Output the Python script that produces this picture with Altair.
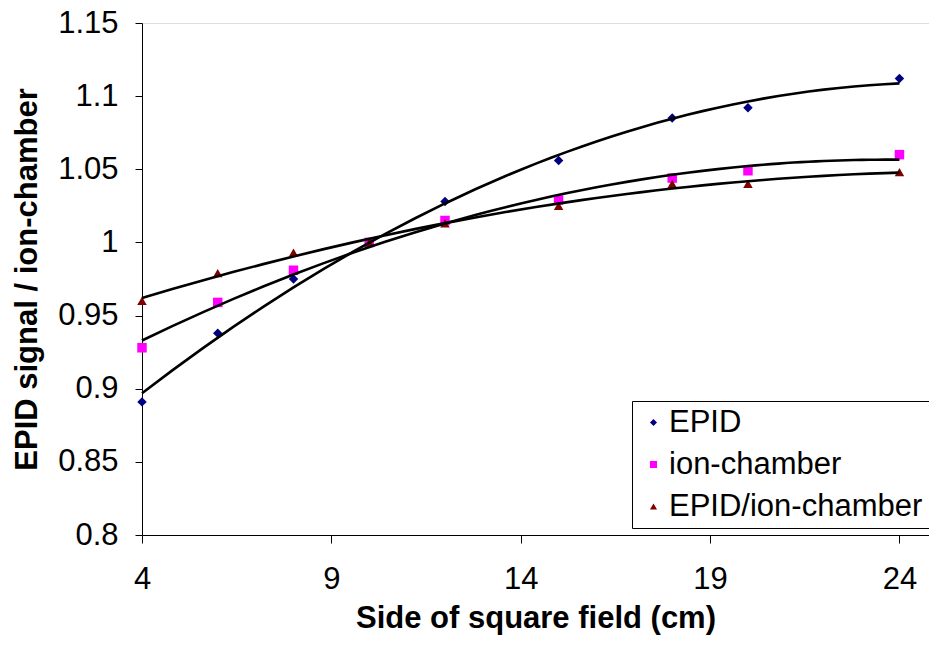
import altair as alt
import pandas as pd

field_cm = [4, 6, 8, 10, 12, 15, 18, 20, 24]
epid = [0.891, 0.938, 0.975, 1.0, 1.028, 1.056, 1.085, 1.092, 1.112]
ion_chamber = [0.928, 0.959, 0.981, 1.0, 1.015, 1.029, 1.044, 1.049, 1.060]
ratio = [0.960, 0.979, 0.993, 1.0, 1.013, 1.025, 1.040, 1.040, 1.048]

series_names = ["EPID", "ion-chamber", "EPID/ion-chamber"]
series_colors = ["#000080", "#FF00FF", "#800000"]
series_shapes = ["diamond", "square", "triangle-up"]

x_ticks = [4, 9, 14, 19, 24]
y_ticks = [0.8, 0.85, 0.9, 0.95, 1.0, 1.05, 1.1, 1.15]

rows = []
for name, vals in zip(series_names, [epid, ion_chamber, ratio]):
    for xv, yv in zip(field_cm, vals):
        rows.append({"x": xv, "y": yv, "series": name})
df = pd.DataFrame(rows)

FONT = "Liberation Sans"

xscale = alt.Scale(domain=[4, 24.78], nice=False, zero=False)
yscale = alt.Scale(domain=[0.8, 1.15], nice=False, zero=False)

xaxis = alt.Axis(
    values=x_ticks, title="Side of square field (cm)", grid=False,
    labelFontSize=31, titleFontSize=31, labelFont=FONT, titleFont=FONT,
    titleFontWeight="bold", labelColor="black", titleColor="black",
    domainColor="black", tickColor="black", tickSize=8, labelPadding=21,
    titleY=92, titleBaseline="alphabetic", labelFlush=False,
)
yaxis = alt.Axis(
    values=y_ticks, title="EPID signal / ion-chamber", grid=False, format="~g",
    labelFontSize=31, titleFontSize=31, labelFont=FONT, titleFont=FONT,
    titleFontWeight="bold", labelColor="black", titleColor="black",
    domainColor="black", tickColor="black", tickSize=7, labelPadding=17,
    titleX=-106, titleBaseline="alphabetic", labelFlush=False,
)

points = alt.Chart(df).mark_point(filled=True, opacity=1, size=90).encode(
    x=alt.X("x:Q", scale=xscale, axis=xaxis),
    y=alt.Y("y:Q", scale=yscale, axis=yaxis),
    color=alt.Color(
        "series:N",
        scale=alt.Scale(domain=series_names, range=series_colors),
        legend=alt.Legend(
            title=None, orient="none", legendX=490, legendY=378,
            labelFontSize=31, labelFont=FONT, labelColor="black",
            symbolSize=50, symbolOffset=0, labelOffset=0, rowPadding=10,
            padding=6, strokeColor="black", fillColor="white",
            labelLimit=400, symbolStrokeWidth=0, symbolOpacity=1,
        ),
    ),
    shape=alt.Shape(
        "series:N",
        scale=alt.Scale(domain=series_names, range=series_shapes),
        legend=None,
    ),
)

trend = alt.Chart(df).transform_regression(
    "x", "y", method="poly", order=2, groupby=["series"]
).mark_line(color="black", strokeWidth=2.6).encode(
    x=alt.X("x:Q", scale=xscale),
    y=alt.Y("y:Q", scale=yscale),
    detail="series:N",
)

chart = alt.layer(points, trend).properties(
    width=787, height=512,
    autosize=alt.AutoSizeParams(type="none"),
    padding={"left": 142, "top": 23, "right": 0, "bottom": 115},
).configure_view(stroke=None).configure(background="white")

chart.save("out.html", embed_options={"renderer": "svg", "actions": False})
